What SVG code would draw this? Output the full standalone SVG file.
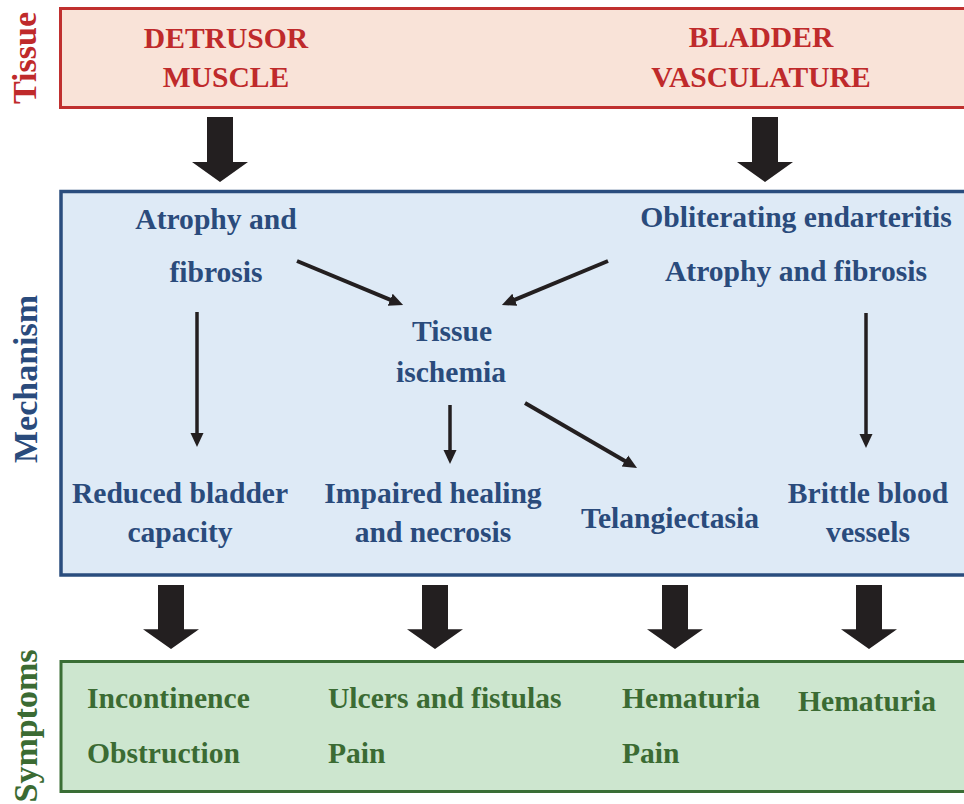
<svg xmlns="http://www.w3.org/2000/svg" xmlns:xlink="http://www.w3.org/1999/xlink" width="964" height="804" viewBox="0 0 964 804">
<style>
text{font-family:"Liberation Serif","Times New Roman",serif;font-weight:bold;}
.t{fill:#bf2a2b;font-size:29.6px;text-anchor:middle;}
.m{fill:#2a4b7c;font-size:29.6px;text-anchor:middle;}
.s{fill:#3b6b33;font-size:29.6px;}
.side{font-size:34px;text-anchor:middle;}
.thin{stroke:#231f20;stroke-width:4;fill:none;}
.thinv{stroke:#231f20;stroke-width:3.5;fill:none;}
.big{fill:#231f20;}
</style>
<defs>
<marker id="ah" markerUnits="userSpaceOnUse" markerWidth="16" markerHeight="16" refX="1" refY="7" orient="auto">
<path d="M0,0.5 L14,7 L0,13.5 z" fill="#231f20"/>
</marker>
<path id="bigArrow" d="M-13,0 L13,0 L13,45 L28,45 L0,65 L-28,45 L-13,45 z"/>
</defs>
<rect width="964" height="804" fill="#ffffff"/>

<g id="tissue">
<rect x="60.5" y="8.5" width="912" height="99" fill="#f9e3d8" stroke="#c0302f" stroke-width="3"/>
<text class="side" fill="#bf2a2b" transform="translate(36,58) rotate(-90)">Tissue</text>
</g>
<g id="detrusor"><text class="t" x="226" y="48">DETRUSOR</text><text class="t" x="226" y="87">MUSCLE</text></g>
<g id="vasculature"><text class="t" x="761" y="47">BLADDER</text><text class="t" x="761" y="87">VASCULATURE</text></g>

<g id="mechanism">
<rect x="61" y="191.5" width="912" height="383.5" fill="#deeaf6" stroke="#2a4d7e" stroke-width="3.5"/>
<text class="side" fill="#2a4b7c" transform="translate(37,379) rotate(-90)">Mechanism</text>
</g>
<g id="atrophy-left"><text class="m" x="216" y="229">Atrophy and</text><text class="m" x="216" y="282">fibrosis</text></g>
<g id="obliterating"><text class="m" x="796" y="227">Obliterating endarteritis</text><text class="m" x="796" y="281">Atrophy and fibrosis</text></g>
<g id="ischemia"><text class="m" x="452" y="341">Tissue</text><text class="m" x="451" y="382">ischemia</text></g>
<g id="reduced"><text class="m" x="180" y="503">Reduced bladder</text><text class="m" x="180" y="542">capacity</text></g>
<g id="impaired"><text class="m" x="433" y="503">Impaired healing</text><text class="m" x="433" y="542">and necrosis</text></g>
<g id="telangiectasia"><text class="m" x="670" y="528">Telangiectasia</text></g>
<g id="brittle"><text class="m" x="868" y="503">Brittle blood</text><text class="m" x="868" y="542">vessels</text></g>

<g id="symptoms">
<rect x="61" y="661.5" width="912" height="130" fill="#cde6cf" stroke="#3a6e35" stroke-width="3"/>
<text class="side" fill="#3b6b33" transform="translate(37,726) rotate(-90)">Symptoms</text>
</g>
<g id="sym1"><text class="s" x="87" y="708">Incontinence</text><text class="s" x="87" y="763">Obstruction</text></g>
<g id="sym2"><text class="s" x="328" y="708">Ulcers and fistulas</text><text class="s" x="328" y="763">Pain</text></g>
<g id="sym3"><text class="s" x="622" y="708">Hematuria</text><text class="s" x="622" y="763">Pain</text></g>
<g id="sym4"><text class="s" x="798" y="711">Hematuria</text></g>

<g id="connectors">
<use xlink:href="#bigArrow" class="big" transform="translate(220,117)"/>
<use xlink:href="#bigArrow" class="big" transform="translate(765,117)"/>
<use xlink:href="#bigArrow" class="big" transform="translate(171,585) scale(1,0.985)"/>
<use xlink:href="#bigArrow" class="big" transform="translate(435,585) scale(1,0.985)"/>
<use xlink:href="#bigArrow" class="big" transform="translate(675,585) scale(1,0.985)"/>
<use xlink:href="#bigArrow" class="big" transform="translate(869,585) scale(1,0.985)"/>
<line class="thinv" x1="197" y1="312" x2="197" y2="434" marker-end="url(#ah)"/>
<line class="thinv" x1="866" y1="313" x2="866" y2="435" marker-end="url(#ah)"/>
<line class="thinv" x1="450" y1="405" x2="450" y2="451" marker-end="url(#ah)"/>
<line class="thin" x1="297" y1="261" x2="391.1" y2="300.1" marker-end="url(#ah)"/>
<line class="thin" x1="608" y1="261" x2="513.9" y2="300.1" marker-end="url(#ah)"/>
<line class="thin" x1="525" y1="403" x2="625.8" y2="461.5" marker-end="url(#ah)"/>
</g>
</svg>
